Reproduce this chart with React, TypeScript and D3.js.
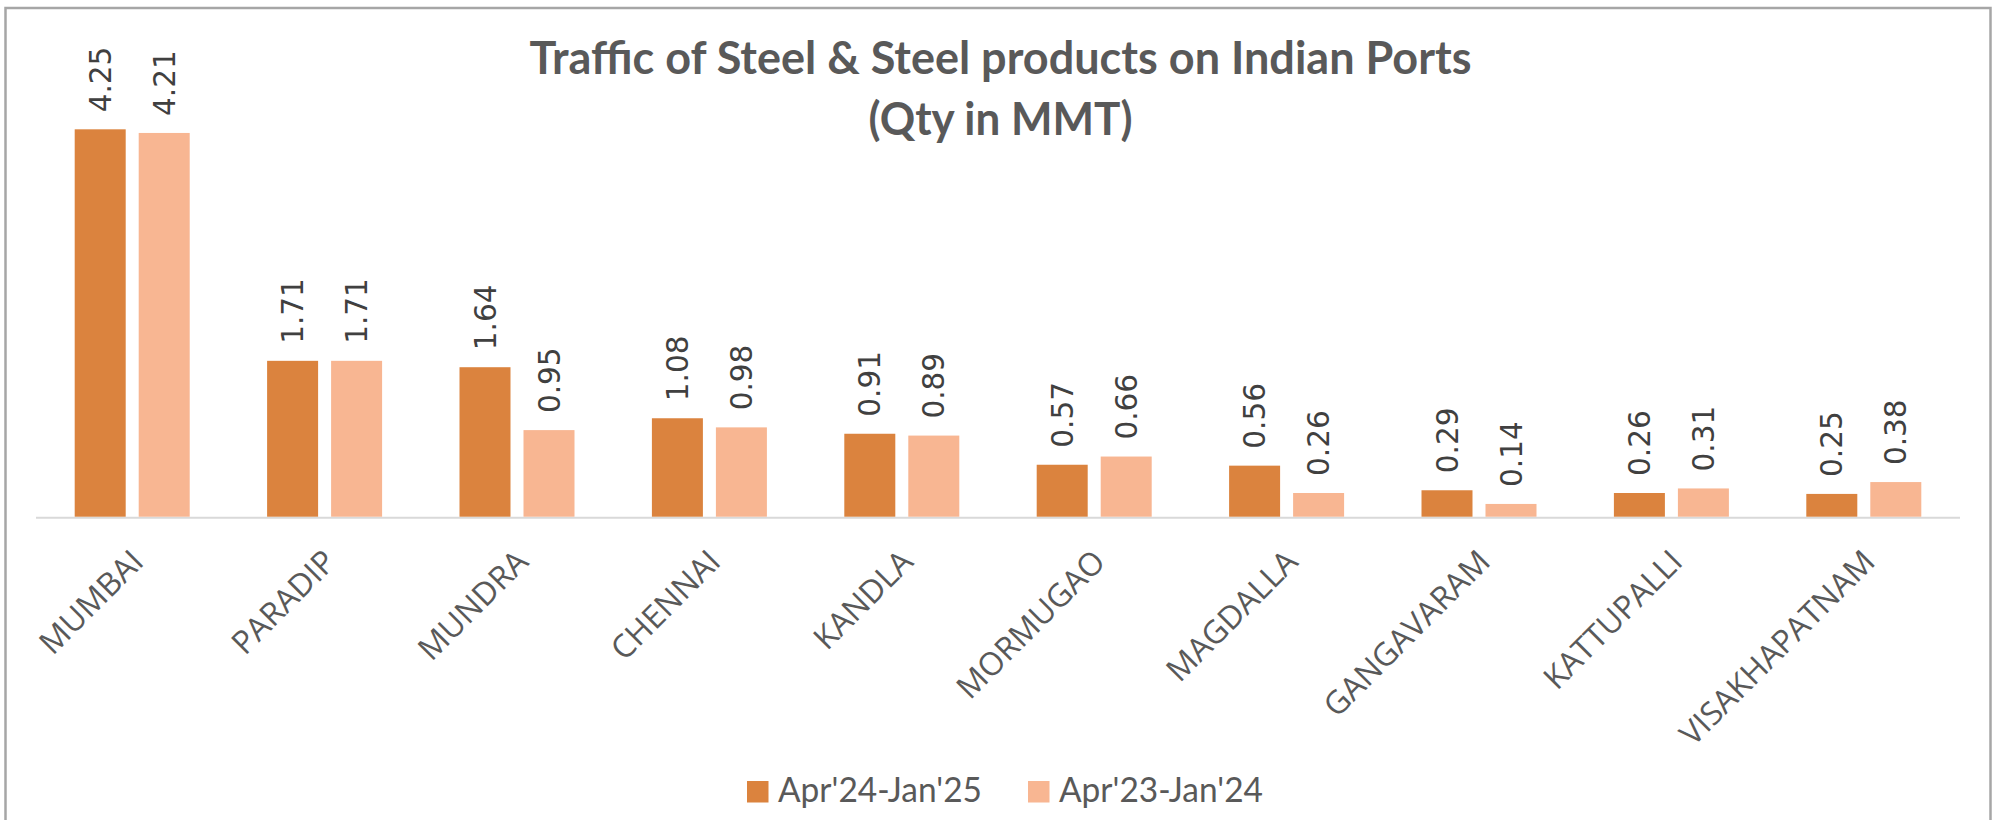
import React from "react";
import * as d3 from "d3";

const categories = ["MUMBAI", "PARADIP", "MUNDRA", "CHENNAI", "KANDLA", "MORMUGAO", "MAGDALLA", "GANGAVARAM", "KATTUPALLI", "VISAKHAPATNAM"];
const seriesNames = ["Apr'24-Jan'25", "Apr'23-Jan'24"];
const current = [4.25, 1.71, 1.64, 1.08, 0.91, 0.57, 0.56, 0.29, 0.26, 0.25];
const previous = [4.21, 1.71, 0.95, 0.98, 0.89, 0.66, 0.26, 0.14, 0.31, 0.38];
const colors = ["#DB833E", "#F8B692"];
const titleLines = ["Traffic of Steel & Steel products on Indian Ports", "(Qty in MMT)"];

export default function App() {
  const W = 2001, H = 820;
  const baseY = 516.7;
  const x0 = d3.scaleBand<string>().domain(categories).range([36, 1960]).padding(0);
  const groupW = 115;
  const x1 = d3.scaleBand<string>().domain(seriesNames).range([0, groupW]).paddingInner(13 / 64).paddingOuter(0);
  const y = d3.scaleLinear().domain([0, 4.5]).range([baseY, baseY - 4.5 * 91.15]);
  const series = [current, previous];
  const off = (x0.bandwidth() - groupW) / 2;

  return (
    <svg width={W} height={H} style={{ position: "absolute", left: 0, top: 0, background: "#fff" }}>
      <rect x={5.5} y={8} width={1985} height={830} fill="#fff" stroke="#A6A6A6" strokeWidth={2.5} />
      {titleLines.map((t, i) => (
        <text key={t} x={1000.5} y={i === 0 ? 74 : 135} textAnchor="middle" fontFamily="Lato, 'Open Sans', sans-serif" fontWeight={700} fontSize={45} fill="#595959"
          textLength={i === 0 ? 942 : 264} lengthAdjust="spacingAndGlyphs">{t}</text>
      ))}
      <line x1={36} x2={1960} y1={baseY + 1} y2={baseY + 1} stroke="#D9D9D9" strokeWidth={2} />
      {categories.map((c, ci) => (
        <g key={c} transform={`translate(${(x0(c) ?? 0) + off},0)`}>
          {series.map((s, si) => {
            const bx = x1(seriesNames[si]) ?? 0;
            const v = s[ci];
            const top = y(v);
            const cx = bx + x1.bandwidth() / 2;
            return (
              <g key={si}>
                <rect x={bx} y={top} width={x1.bandwidth()} height={baseY - top} fill={colors[si]} />
                <text transform={`translate(${cx},${top - 17}) rotate(-90)`} dy="0.36em" textAnchor="start"
                  fontFamily="'DejaVu Sans', sans-serif" fontSize={29.5} fill="#404040">{v.toFixed(2)}</text>
              </g>
            );
          })}
        </g>
      ))}
      {categories.map((c) => {
        const cx = (x0(c) ?? 0) + x0.bandwidth() / 2;
        return (
          <text key={c} transform={`translate(${cx + 13},${baseY + 47}) rotate(-45)`} textAnchor="end"
            fontFamily="'Open Sans', sans-serif" fontSize={32} fill="#595959">{c}</text>
        );
      })}
      <g>
        <rect x={747} y={781} width={21.5} height={21.5} fill={colors[0]} />
        <text x={778} y={802} fontFamily="Lato, 'Open Sans', sans-serif" fontSize={34} fill="#595959" textLength={204} lengthAdjust="spacingAndGlyphs">{seriesNames[0]}</text>
        <rect x={1028} y={781} width={21.5} height={21.5} fill={colors[1]} />
        <text x={1059} y={802} fontFamily="Lato, 'Open Sans', sans-serif" fontSize={34} fill="#595959" textLength={204} lengthAdjust="spacingAndGlyphs">{seriesNames[1]}</text>
      </g>
    </svg>
  );
}
